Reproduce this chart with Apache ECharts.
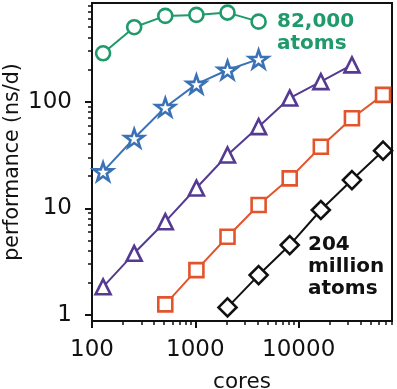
<!DOCTYPE html>
<html><head><meta charset="utf-8">
<script src="https://cdn.jsdelivr.net/npm/echarts@6/dist/echarts.min.js"></script>
<style>html,body{margin:0;padding:0;background:#fff}#c{width:397px;height:389px}</style>
</head><body><div id="c"></div>
<script>
// Data (cores vs performance ns/day)
const cores = [128, 256, 512, 1024, 2048, 4096, 8192, 16384, 32768, 65536];
const perfCircle = [284, 498, 636, 650, 683, 562];                 // cores 128..4096 (82,000 atoms)
const perfStar = [22.1, 45.4, 88.6, 146, 198, 250];                // cores 128..4096
const perfTriangle = [1.84, 3.79, 7.5, 15.5, 31.6, 58.3, 108, 154, 221]; // cores 128..32768
const perfSquare = [1.26, 2.64, 5.42, 10.75, 19.1, 37.8, 69.9, 115.6];   // cores 512..65536
const perfDiamond = [1.18, 2.37, 4.53, 9.65, 18.4, 34.7];          // cores 2048..65536 (204 million atoms)
const xMajorTicks = [100, 1000, 10000];
const yMajorTicks = [1, 10, 100];

const xMinorTicks = [];
[100, 1000, 10000].forEach(d => { for (let k = 2; k <= 9; k++) { if (d * k <= 80000) xMinorTicks.push(d * k); } });
const yMinorTicks = [];
[1, 10, 100].forEach(d => { for (let k = 2; k <= 9; k++) { if (d * k <= 840) yMinorTicks.push(d * k); } });

function pairs(startIdx, vals) { return vals.map((v, i) => [cores[startIdx + i], v]); }

const STAR = 'path://M50,0 L61.8,35.1 L98.9,35.1 L69.1,57.3 L80.2,92.7 L50,71 L19.8,92.7 L30.9,57.3 L1.1,35.1 L38.2,35.1 Z';
const TXT = '#111111';
const FONT = "'DejaVu Sans', sans-serif";

function mk(name, color, symbol, size, data) {
  return {
    name, type: 'line', data, symbol, symbolSize: size, symbolKeepAspect: true,
    xAxisIndex: 0, yAxisIndex: 0,
    lineStyle: { color, width: 2 },
    itemStyle: { color: '#fff', borderColor: color, borderWidth: 2.6 },
    emphasis: { disabled: true }, animation: false, z: 3
  };
}

const chart = echarts.init(document.getElementById('c'), null, { renderer: 'canvas' });
const fmt = v => String(Math.round(v));
const xMin = 100, xMax = 80000, yMin = 0.88, yMax = 840;

chart.setOption({
  animation: false,
  grid: { left: 92, right: 5, top: 3, bottom: 68, show: true, borderColor: '#111', borderWidth: 2,
          backgroundColor: 'transparent', containLabel: false, outerBoundsMode: 'none' },
  textStyle: { fontFamily: FONT },
  xAxis: [
    { type: 'log', logBase: 10, min: xMin, max: xMax, position: 'bottom',
      name: 'cores', nameLocation: 'middle', nameGap: 50, nameMoveOverlap: false,
      nameTextStyle: { fontSize: 21.5, color: TXT, fontFamily: FONT },
      axisLine: { show: true, lineStyle: { color: '#111', width: 2 } },
      axisTick: { show: true, customValues: xMajorTicks, length: 7, lineStyle: { color: '#111', width: 2 } },
      axisLabel: { show: true, customValues: xMajorTicks, formatter: fmt, fontSize: 23, color: TXT, margin: 18, fontFamily: FONT },
      splitLine: { show: false }, minorTick: { show: false } },
    { type: 'log', logBase: 10, min: xMin, max: xMax, position: 'bottom', gridIndex: 0,
      axisLine: { show: false },
      axisTick: { show: true, customValues: xMinorTicks, length: 4, lineStyle: { color: '#111', width: 1.5 } },
      axisLabel: { show: false }, splitLine: { show: false } }
  ],
  yAxis: [
    { type: 'log', logBase: 10, min: yMin, max: yMax, position: 'left',
      name: 'performance (ns/d)', nameLocation: 'middle', nameGap: 69, nameRotate: 90, nameMoveOverlap: false,
      nameTextStyle: { fontSize: 20.5, color: TXT, fontFamily: FONT },
      axisLine: { show: true, lineStyle: { color: '#111', width: 2 } },
      axisTick: { show: true, customValues: yMajorTicks, length: 7, lineStyle: { color: '#111', width: 2 } },
      axisLabel: { show: true, customValues: yMajorTicks, formatter: fmt, fontSize: 23, color: TXT, margin: 20, fontFamily: FONT },
      splitLine: { show: false } },
    { type: 'log', logBase: 10, min: yMin, max: yMax, position: 'left', gridIndex: 0,
      axisLine: { show: false },
      axisTick: { show: true, customValues: yMinorTicks, length: 4, lineStyle: { color: '#111', width: 1.5 } },
      axisLabel: { show: false }, splitLine: { show: false } }
  ],
  series: [
    mk('82k', '#1f9a6a', 'circle', 14, pairs(0, perfCircle)),
    mk('star', '#3b72b5', STAR, 19, pairs(0, perfStar)),
    mk('tri', '#553a92', 'triangle', 15, pairs(0, perfTriangle)),
    mk('sq', '#e2542c', 'rect', 14, pairs(2, perfSquare)),
    mk('204M', '#111111', 'diamond', 18, pairs(4, perfDiamond))
  ],
  graphic: [
    { type: 'text', left: 277, top: 11, z: 10,
      style: { text: '82,000\natoms', fill: '#1f9a6a', font: "bold 20px 'DejaVu Sans', sans-serif", lineHeight: 22 } },
    { type: 'text', left: 308, top: 234, z: 10,
      style: { text: '204\nmillion\natoms', fill: '#111111', font: "bold 20px 'DejaVu Sans', sans-serif", lineHeight: 22 } }
  ]
});
</script>
</body></html>
